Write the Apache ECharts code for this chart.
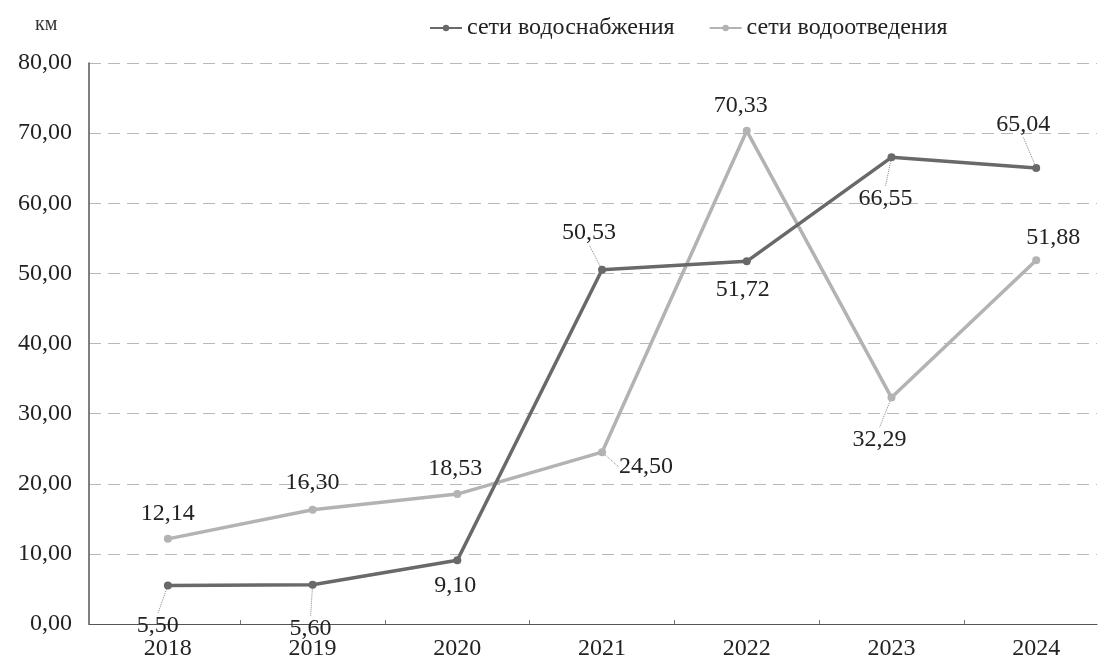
<!DOCTYPE html>
<html>
<head>
<meta charset="utf-8">
<script src="https://cdn.jsdelivr.net/npm/echarts@6/dist/echarts.min.js"></script>
<style>
html,body{margin:0;padding:0;background:#fff;}
#chart{width:1099px;height:661px;}
</style>
</head>
<body>
<div id="chart"></div>
<script>
// ---- data ----
const years = [2018, 2019, 2020, 2021, 2022, 2023, 2024];
const seriesNames = ['сети водоснабжения', 'сети водоотведения'];
const supply = [5.50, 5.60, 9.10, 50.53, 51.72, 66.55, 65.04];
const drainage = [12.14, 16.30, 18.53, 24.50, 70.33, 32.29, 51.88];
const yTicks = [0, 10, 20, 30, 40, 50, 60, 70, 80];
const unitLabel = 'км';

// ---- label placement (style only): label centre offset from point, px ----
const supplyLabelOff = [[-10,40],[-2,44],[-2,26],[-13,-37],[-4,28],[-6,41],[-13,-43]];
const supplyLeader = [true,true,false,true,false,true,true];
const drainLabelOff = [[0,-25],[0,-27],[-2,-25],[44,15],[-6,-25],[-12,42],[17,-22]];
const drainLeader = [false,false,false,true,false,true,false];

const fmt = v => v.toFixed(2).replace('.', ',');
const FONT = '"Liberation Serif", "DejaVu Serif", serif';

function build(vals, leader) {
  return vals.map((v, i) => ({
    value: [years[i], v],
    labelLine: { show: leader[i] }
  }));
}

const chart = echarts.init(document.getElementById('chart'), null, {renderer: 'canvas'});

const labelBase = {
  show: true,
  position: 'inside',
  fontFamily: FONT,
  fontSize: 24,
  color: '#222',
  formatter: p => fmt(p.value[1])
};
const leaderStyle = {
  show: false,
  length2: 0,
  lineStyle: { color: '#888', width: 1, type: 'dotted' }
};

chart.setOption({
  backgroundColor: '#fff',
  animation: false,
  title: {
    text: unitLabel,
    left: 30, top: 10,
    textStyle: { fontFamily: FONT, fontSize: 20, fontWeight: 'normal', color: '#333' }
  },
  legend: {
    left: 424, top: 11,
    itemWidth: 32, itemHeight: 8, itemGap: 34,
    textStyle: { fontFamily: FONT, fontSize: 24, color: '#222' },
    data: seriesNames
  },
  grid: { left: 89, right: 2, top: 63, bottom: 34, containLabel: false },
  xAxis: {
    type: 'value',
    min: 2017.455,
    max: 2024.42,
    splitLine: { show: false },
    axisLine: { show: true, lineStyle: { color: '#555', width: 1.2 } },
    axisTick: { show: true, inside: true, length: 4, customValues: [2018.5, 2019.5, 2020.5, 2021.5, 2022.5, 2023.5], lineStyle: { color: '#777' } },
    axisLabel: {
      customValues: years,
      formatter: v => String(v),
      fontFamily: FONT, fontSize: 24, color: '#222', margin: 13
    }
  },
  yAxis: {
    type: 'value',
    min: 0, max: 80, interval: 10,
    axisLine: { show: true, lineStyle: { color: '#555', width: 1.5 } },
    axisTick: { show: false },
    splitLine: { show: true, lineStyle: { color: '#b8b8b8', width: 1, type: [12, 7] } },
    axisLabel: {
      customValues: yTicks,
      formatter: v => fmt(v),
      fontFamily: FONT, fontSize: 24, color: '#222', margin: 17
    }
  },
  series: [
    {
      name: seriesNames[0],
      type: 'line',
      data: build(supply, supplyLeader),
      symbol: 'circle', symbolSize: 8,
      lineStyle: { color: '#696969', width: 3.5 },
      itemStyle: { color: '#696969' },
      label: labelBase,
      labelLine: leaderStyle,
      labelLayout: p => ({ dx: supplyLabelOff[p.dataIndex][0], dy: supplyLabelOff[p.dataIndex][1] }),
      z: 3
    },
    {
      name: seriesNames[1],
      type: 'line',
      data: build(drainage, drainLeader),
      symbol: 'circle', symbolSize: 8,
      lineStyle: { color: '#b3b3b3', width: 3.5 },
      itemStyle: { color: '#b3b3b3' },
      label: labelBase,
      labelLine: leaderStyle,
      labelLayout: p => ({ dx: drainLabelOff[p.dataIndex][0], dy: drainLabelOff[p.dataIndex][1] }),
      z: 2
    }
  ]
});
</script>
</body>
</html>
